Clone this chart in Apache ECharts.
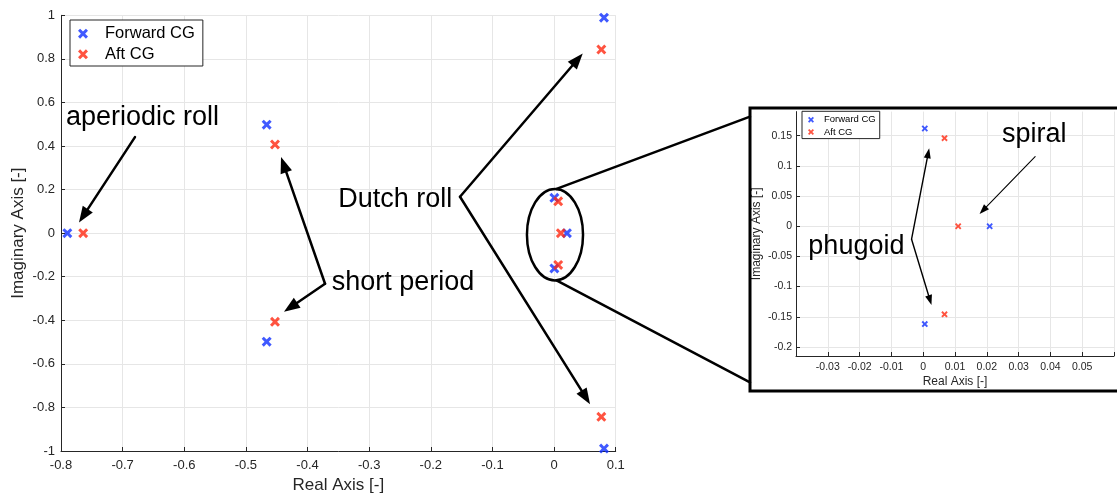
<!DOCTYPE html>
<html><head><meta charset="utf-8">
<script src="https://cdn.jsdelivr.net/npm/echarts@6/dist/echarts.min.js"></script>
<style>html,body{margin:0;padding:0;background:#fff}#c{width:1117px;height:499px}</style>
</head><body><div id="c"></div>
<script>
// ---- data ----
const seriesNames = ['Forward CG', 'Aft CG'];
const fwdRe = [-0.7897, -0.4663, -0.4663, 0.0810, 0.0810, 0.0005, 0.0005, 0.0209];
const fwdIm = [0, 0.498, -0.498, 0.989, -0.989, 0.162, -0.162, 0];
const aftRe = [-0.7640, -0.4528, -0.4528, 0.0767, 0.0767, 0.0067, 0.0067, 0.0110];
const aftIm = [0, 0.407, -0.407, 0.843, -0.843, 0.146, -0.146, 0];
const insetYTicks = [-0.2, -0.15, -0.1, -0.05, 0, 0.05, 0.1, 0.15];
const modeLabels = ['aperiodic roll', 'short period', 'Dutch roll', 'phugoid', 'spiral'];

const FONT = '"Liberation Sans", Arial, Helvetica, sans-serif';
const BLUE = '#1030ff', RED = '#ff2810', AX = '#262626', GRID = '#e6e6e6';
const d = 21;
const XPATH = 'path://M0,' + d + 'L' + d + ',0L50,' + (50 - d) + 'L' + (100 - d) + ',0L100,' + d + 'L' + (50 + d) + ',50L100,' + (100 - d) + 'L' + (100 - d) + ',100L50,' + (50 + d) + 'L' + d + ',100L0,' + (100 - d) + 'L' + (50 - d) + ',50Z';

const pts = (re, im) => re.map((v, i) => [v, im[i]]);

function axisCommon(fs, margin) {
  return {
    nameMoveOverlap: false,
    axisLine: { onZero: false, lineStyle: { color: AX, width: 1 } },
    axisTick: { inside: true, length: 4, lineStyle: { color: AX } },
    axisLabel: { fontSize: fs, color: AX, fontFamily: FONT, margin: margin },
    splitLine: { show: true, lineStyle: { color: GRID, width: 1 } }
  };
}

const chart = echarts.init(document.getElementById('c'), null, { renderer: 'canvas' });

const option = {
  animation: false,
  backgroundColor: '#fff',
  textStyle: { fontFamily: FONT },
  grid: [
    { left: 61, right: 1117 - 615.7, top: 15.3, bottom: 499 - 454.3 },
    { left: 796, right: 1, top: 111.6, bottom: 499 - 356 }
  ],
  legend: [
    {
      data: seriesNames, left: 70, top: 20, orient: 'vertical',
      icon: XPATH, itemWidth: 34, itemHeight: 10, itemGap: 2.6,
      padding: [4.7, 8, 2.7, 8],
      borderColor: AX, borderWidth: 1, backgroundColor: '#fff',
      textStyle: { fontSize: 16.5, color: '#000', lineHeight: 18, fontFamily: FONT },
      selectedMode: false
    },
    {
      data: seriesNames, left: 802, top: 111.3, orient: 'vertical',
      icon: XPATH, itemWidth: 16, itemHeight: 6, itemGap: 1.3,
      padding: [3, 4, 1, 6],
      borderColor: AX, borderWidth: 1, backgroundColor: '#fff',
      textStyle: { fontSize: 9.5, color: '#000', lineHeight: 11, fontFamily: FONT },
      selectedMode: false
    }
  ],
  xAxis: [
    Object.assign(axisCommon(13, 8), {
      gridIndex: 0, type: 'value', min: -0.8, max: 0.1, interval: 0.1,
      name: 'Real Axis [-]', nameLocation: 'middle', nameGap: 26,
      nameTextStyle: { fontSize: 17, color: AX, fontFamily: FONT }
    }),
    Object.assign(axisCommon(10.5, 6), {
      gridIndex: 1, type: 'value', min: -0.04, max: 0.06, interval: 0.01,
      name: 'Real Axis [-]', nameLocation: 'middle', nameGap: 20,
      nameTextStyle: { fontSize: 12, color: AX, fontFamily: FONT }
    })
  ],
  yAxis: [
    Object.assign(axisCommon(13, 6), {
      gridIndex: 0, type: 'value', min: -1, max: 1, interval: 0.2,
      name: 'Imaginary Axis [-]', nameLocation: 'middle', nameGap: 34,
      nameTextStyle: { fontSize: 17, color: AX, fontFamily: FONT }
    }),
    Object.assign(axisCommon(10.5, 4), {
      gridIndex: 1, type: 'value', min: -0.215, max: 0.19,
      name: 'Imaginary Axis [-]', nameLocation: 'middle', nameGap: 33,
      nameTextStyle: { fontSize: 12, color: AX, fontFamily: FONT }
    })
  ],
  series: [
    { name: seriesNames[0], type: 'scatter', xAxisIndex: 0, yAxisIndex: 0, symbol: XPATH, symbolSize: 10, itemStyle: { color: BLUE }, data: pts(fwdRe, fwdIm) },
    { name: seriesNames[1], type: 'scatter', xAxisIndex: 0, yAxisIndex: 0, symbol: XPATH, symbolSize: 10, itemStyle: { color: RED }, data: pts(aftRe, aftIm) },
    { name: seriesNames[0], type: 'scatter', xAxisIndex: 1, yAxisIndex: 1, symbol: XPATH, symbolSize: 6.5, clip: true, itemStyle: { color: BLUE }, data: pts(fwdRe, fwdIm) },
    { name: seriesNames[1], type: 'scatter', xAxisIndex: 1, yAxisIndex: 1, symbol: XPATH, symbolSize: 6.5, clip: true, itemStyle: { color: RED }, data: pts(aftRe, aftIm) }
  ]
};
// inset axis: labelled ticks only at round values
option.xAxis[1].axisLabel.formatter = v => (Math.abs(v + 0.04) < 1e-9 || Math.abs(v - 0.06) < 1e-9) ? '' : String(+(+v).toFixed(2));
option.yAxis[1].axisTick.customValues = insetYTicks;
option.yAxis[1].axisLabel.customValues = insetYTicks;
option.yAxis[1].axisLabel.formatter = v => String(+(+v).toFixed(2));

chart.setOption(option);

// ---- annotations ----
const P = (g, p) => chart.convertToPixel({ gridIndex: g }, p);
const els = [];
function line(a, b, lw) {
  els.push({ type: 'line', z: 50, shape: { x1: a[0], y1: a[1], x2: b[0], y2: b[1] }, style: { stroke: '#000', lineWidth: lw, lineCap: 'round' } });
}
function arrow(a, b, lw, hl, hw) {
  const dx = b[0] - a[0], dy = b[1] - a[1], L = Math.hypot(dx, dy);
  const ux = dx / L, uy = dy / L, nx = -uy, ny = ux;
  const bx = b[0] - ux * hl, by = b[1] - uy * hl;
  line(a, [b[0] - ux * hl * 0.7, b[1] - uy * hl * 0.7], lw);
  els.push({ type: 'polygon', z: 50, shape: { points: [[b[0], b[1]], [bx + nx * hw / 2, by + ny * hw / 2], [bx - nx * hw / 2, by - ny * hw / 2]] }, style: { fill: '#000' } });
}
function label(txt, p, align, fs) {
  els.push({ type: 'text', z: 50, style: { text: txt, x: p[0], y: p[1], fill: '#000', fontSize: fs, fontFamily: FONT, align: align, verticalAlign: 'middle' } });
}

// main plot annotations (data coords of main axes)
label(modeLabels[0], P(0, [-0.7919, 0.532]), 'left', 27);
arrow(P(0, [-0.680, 0.441]), P(0, [-0.7708, 0.049]), 2.5, 16, 12);

label(modeLabels[1], P(0, [-0.3608, -0.228]), 'left', 27);
const spV = P(0, [-0.3716, -0.2323]);
arrow(spV, P(0, [-0.443, 0.349]), 2.5, 16, 12);
arrow(spV, P(0, [-0.4382, -0.3613]), 2.5, 16, 12);

label(modeLabels[2], P(0, [-0.165, 0.156]), 'right', 27);
const drV = P(0, [-0.1526, 0.167]);
arrow(drV, P(0, [0.0465, 0.8246]), 2.5, 16, 12);
arrow(drV, P(0, [0.0584, -0.785]), 2.5, 16, 12);

// ellipse around the near-origin poles
const ec = P(0, [0.0015, -0.007]);
const ex = P(0, [0.0015 + 0.0455, -0.007]);
const ey = P(0, [0.0015, -0.007 + 0.21]);
const rx = ex[0] - ec[0], ry = ec[1] - ey[1];
els.push({ type: 'ellipse', z: 50, shape: { cx: ec[0], cy: ec[1], rx: rx, ry: ry }, style: { fill: 'none', stroke: '#000', lineWidth: 2.5 } });

// inset frame and connectors
const frame = { x: 750, y: 108, w: 380, h: 283 };
els.push({ type: 'rect', z: 60, shape: { x: frame.x, y: frame.y, width: frame.w, height: frame.h }, style: { fill: 'none', stroke: '#000', lineWidth: 3 } });
line([ec[0] + 1.5, ec[1] - ry], [frame.x, 116.7], 2.5);
line([ec[0] + 1.5, ec[1] + ry], [frame.x, 382.3], 2.5);

// inset annotations (data coords of inset axes)
label(modeLabels[3], P(1, [-0.0059, -0.0338]), 'right', 27);
const phV = P(1, [-0.00366, -0.0215]);
arrow(phV, P(1, [0.001875, 0.1292]), 1.4, 10, 7);
arrow(phV, P(1, [0.0026, -0.1304]), 1.4, 10, 7);
label(modeLabels[4], P(1, [0.0248, 0.1512]), 'left', 27);
arrow(P(1, [0.0352, 0.1153]), P(1, [0.01772, 0.0204]), 1.1, 10, 7);

chart.setOption({ graphic: { elements: els } });
</script>
</body></html>
